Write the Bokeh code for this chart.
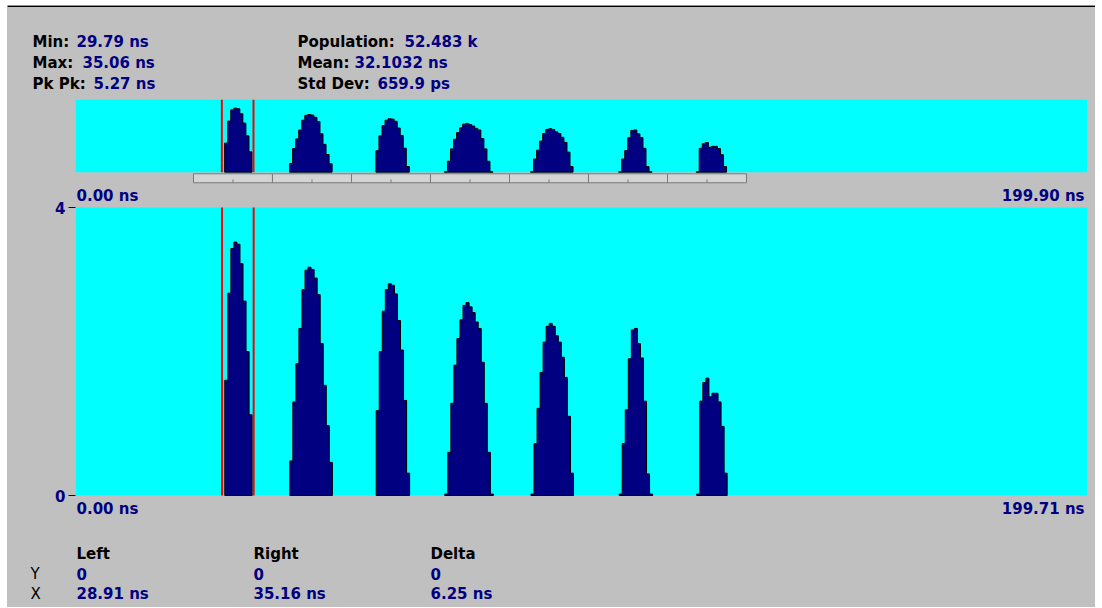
from bokeh.plotting import figure
from bokeh.layouts import column
from bokeh.models import Range1d, Label, FixedTicker
from bokeh.embed import file_html
from bokeh.resources import INLINE

# ---------------- data ----------------
bin_width = 0.6  # ns
peak_starts = [29.46, 42.29, 59.34, 72.87, 89.88, 107.29, 122.60]
peak1 = [1.60, 2.81, 3.43, 3.52, 3.49, 3.22, 2.70, 2.00, 1.12]
peak2 = [0.48, 1.30, 1.83, 2.32, 2.86, 3.13, 3.17, 3.14, 3.02, 2.79, 2.11, 1.53, 0.97, 0.46]
peak3 = [1.18, 2.00, 2.56, 2.86, 2.94, 2.92, 2.80, 2.43, 2.02, 1.32, 0.31]
peak4 = [0.02, 0.60, 1.28, 1.81, 2.18, 2.44, 2.64, 2.68, 2.62, 2.54, 2.41, 2.32, 1.85, 1.28, 0.60, 0.02]
peak5 = [0.02, 0.72, 1.21, 1.71, 2.13, 2.35, 2.39, 2.35, 2.22, 2.13, 1.92, 1.64, 1.10, 0.31]
peak6 = [0.02, 0.72, 1.19, 1.90, 2.30, 2.32, 2.11, 1.91, 1.31, 0.30, 0.02]
peak7 = [0.02, 1.31, 1.57, 1.63, 1.37, 1.42, 1.42, 1.30, 0.96, 0.31]
peaks = [peak1, peak2, peak3, peak4, peak5, peak6, peak7]

cursor_left = 28.91
cursor_right = 35.16
overview_span = 199.90
main_span = 199.71
y_max = 4
ruler_edges = [23.31, 38.91, 54.52, 70.12, 85.73, 101.33, 116.94, 132.54]

stats_left = [("Min:", "29.79 ns"), ("Max:", "35.06 ns"), ("Pk Pk:", "5.27 ns")]
stats_right = [("Population:", "52.483 k"), ("Mean:", "32.1032 ns"), ("Std Dev:", "659.9 ps")]
cursor_cols = ["Left", "Right", "Delta"]
cursor_y = ["0", "0", "0"]
cursor_x = ["28.91 ns", "35.16 ns", "6.25 ns"]

# ---------------- styles ----------------
GRAY = "#C0C0C0"
CYAN = "#00FFFF"
NAVY = "#000080"
FONT = "DejaVu Sans"
FS = "15px"

# page geometry (pixels)
PAGE_L, PAGE_R = 7, 1095
FL, FR = 75, 1087
W = PAGE_R - PAGE_L


def outline(start, counts):
    xs, ys = [start], [0]
    for i, c in enumerate(counts):
        l = start + i * bin_width
        xs += [l, l + bin_width]
        ys += [c, c]
    xs.append(start + len(counts) * bin_width)
    ys.append(0)
    return xs, ys


outs = [outline(s, c) for s, c in zip(peak_starts, peaks)]
pxs = [o[0] for o in outs]
pys = [o[1] for o in outs]


def style_plain(f):
    f.background_fill_color = GRAY
    f.border_fill_color = GRAY
    f.outline_line_color = None
    f.grid.visible = False
    f.styles = {"background-color": GRAY}


def text_fig(top, bottom):
    f = figure(width=W, height=bottom - top, x_range=Range1d(PAGE_L, PAGE_R),
               y_range=Range1d(bottom, top), toolbar_location=None,
               output_backend="svg", x_axis_location=None, y_axis_location=None,
               min_border_left=0, min_border_right=0, min_border_top=0, min_border_bottom=0,
               frame_align=False)
    style_plain(f)
    return f


def add_text(f, x, y, text, color="black", align="left", bold=True):
    f.add_layout(Label(x=x, y=y, text=text, text_color=color,
                       text_align=align, text_baseline="middle",
                       text_font=FONT, text_font_size=FS,
                       text_font_style="bold" if bold else "normal"))


# ---------------- A: statistics ----------------
fa = text_fig(5, 99)
fa.quad(left=[PAGE_L], right=[PAGE_R], top=[5], bottom=[6.5], fill_color="black", line_color=None)
label_x_l, value_x_l = 32, [76, 82, 93]
label_x_r, value_x_r = 297, [404, 354, 377]
rows_y = [41, 62, 83]
for (lab, val), vx, ry in zip(stats_left, value_x_l, rows_y):
    add_text(fa, label_x_l, ry, lab)
    add_text(fa, vx, ry, val, NAVY)
for (lab, val), vx, ry in zip(stats_right, value_x_r, rows_y):
    add_text(fa, label_x_r, ry, lab)
    add_text(fa, vx, ry, val, NAVY)

# ---------------- B: overview histogram ----------------
T1, B1 = 99, 184
fb = figure(width=W, height=B1 - T1, x_range=Range1d(0, overview_span),
            y_range=Range1d(-0.68, y_max), toolbar_location=None,
            output_backend="svg", x_axis_location=None, y_axis_location=None,
            min_border_left=FL - PAGE_L, min_border_right=PAGE_R - FR,
            min_border_top=0, min_border_bottom=0, frame_align=False)
style_plain(fb)
fb.quad(left=[0], right=[overview_span], bottom=[0], top=[y_max],
        fill_color=CYAN, line_color=None)
fb.patches(xs=pxs, ys=pys, fill_color=NAVY, line_color="black", line_width=1)
fb.segment(x0=[cursor_left, cursor_right], x1=[cursor_left, cursor_right],
           y0=[0, 0], y1=[y_max, y_max], line_color="red", line_width=2)
r_left = ruler_edges[:-1]
r_right = ruler_edges[1:]
fb.quad(left=r_left, right=r_right, top=[-0.09] * len(r_left), bottom=[-0.585] * len(r_left),
        fill_color="#D4D4D4", line_color="#7A7A7A", line_width=1)
mids = [(a + b) / 2 for a, b in zip(r_left, r_right)]
fb.segment(x0=mids, x1=mids, y0=[-0.585] * len(mids), y1=[-0.40] * len(mids),
           line_color="#7A7A7A", line_width=1)

# ---------------- D: main histogram (frame extended up/down for range labels) ----------------
D_TOP, D_BOT = 184, 520
T2, B2 = 207, 495
ppu = (B2 - T2) / y_max
d_lo = -(D_BOT - B2) / ppu
d_hi = y_max + (T2 - D_TOP) / ppu
fd = figure(width=W, height=D_BOT - D_TOP, x_range=Range1d(0, main_span),
            y_range=Range1d(d_lo, d_hi), toolbar_location=None,
            output_backend="svg", x_axis_location=None, y_axis_location="left",
            min_border_left=FL - PAGE_L, min_border_right=PAGE_R - FR,
            min_border_top=0, min_border_bottom=0, frame_align=False)
style_plain(fd)
ax = fd.yaxis[0]
ax.ticker = FixedTicker(ticks=[0, y_max])
ax.axis_line_color = None
ax.major_tick_in = 0
ax.major_tick_out = 7
ax.major_tick_line_color = NAVY
ax.minor_tick_line_color = None
ax.major_label_text_color = NAVY
ax.major_label_text_font = FONT
ax.major_label_text_font_size = FS
ax.major_label_text_font_style = "bold"
ax.major_label_standoff = 3

fd.quad(left=[0], right=[main_span], bottom=[0], top=[y_max], fill_color=CYAN, line_color=None)
fd.patches(xs=pxs, ys=pys, fill_color=NAVY, line_color="black", line_width=1)
fd.segment(x0=[cursor_left, cursor_right], x1=[cursor_left, cursor_right],
           y0=[0, 0], y1=[y_max, y_max], line_color="red", line_width=2)


def dx(px):
    return (px - FL) * main_span / (FR - FL)


def dy(py):
    return y_max - (py - T2) / ppu


add_text(fd, dx(76), dy(195), "0.00 ns", NAVY)
add_text(fd, dx(1084), dy(195), "199.90 ns", NAVY, align="right")
add_text(fd, dx(76), dy(508), "0.00 ns", NAVY)
add_text(fd, dx(1084), dy(508), "199.71 ns", NAVY, align="right")

# ---------------- E: cursor table ----------------
fe = text_fig(D_BOT, 607)
col_x = [76, 253, 430]
for cxp, t, yv, xv in zip(col_x, cursor_cols, cursor_y, cursor_x):
    add_text(fe, cxp, 553, t)
    add_text(fe, cxp, 573, yv, NAVY)
    add_text(fe, cxp, 593, xv, NAVY)
add_text(fe, 30, 573, "Y", bold=False)
add_text(fe, 30, 593, "X", bold=False)

layout = column(fa, fb, fd, fe, spacing=0, margin=(5, 0, 0, 7),
                styles={"background-color": GRAY})
open("out.html", "w").write(file_html(layout, INLINE))
